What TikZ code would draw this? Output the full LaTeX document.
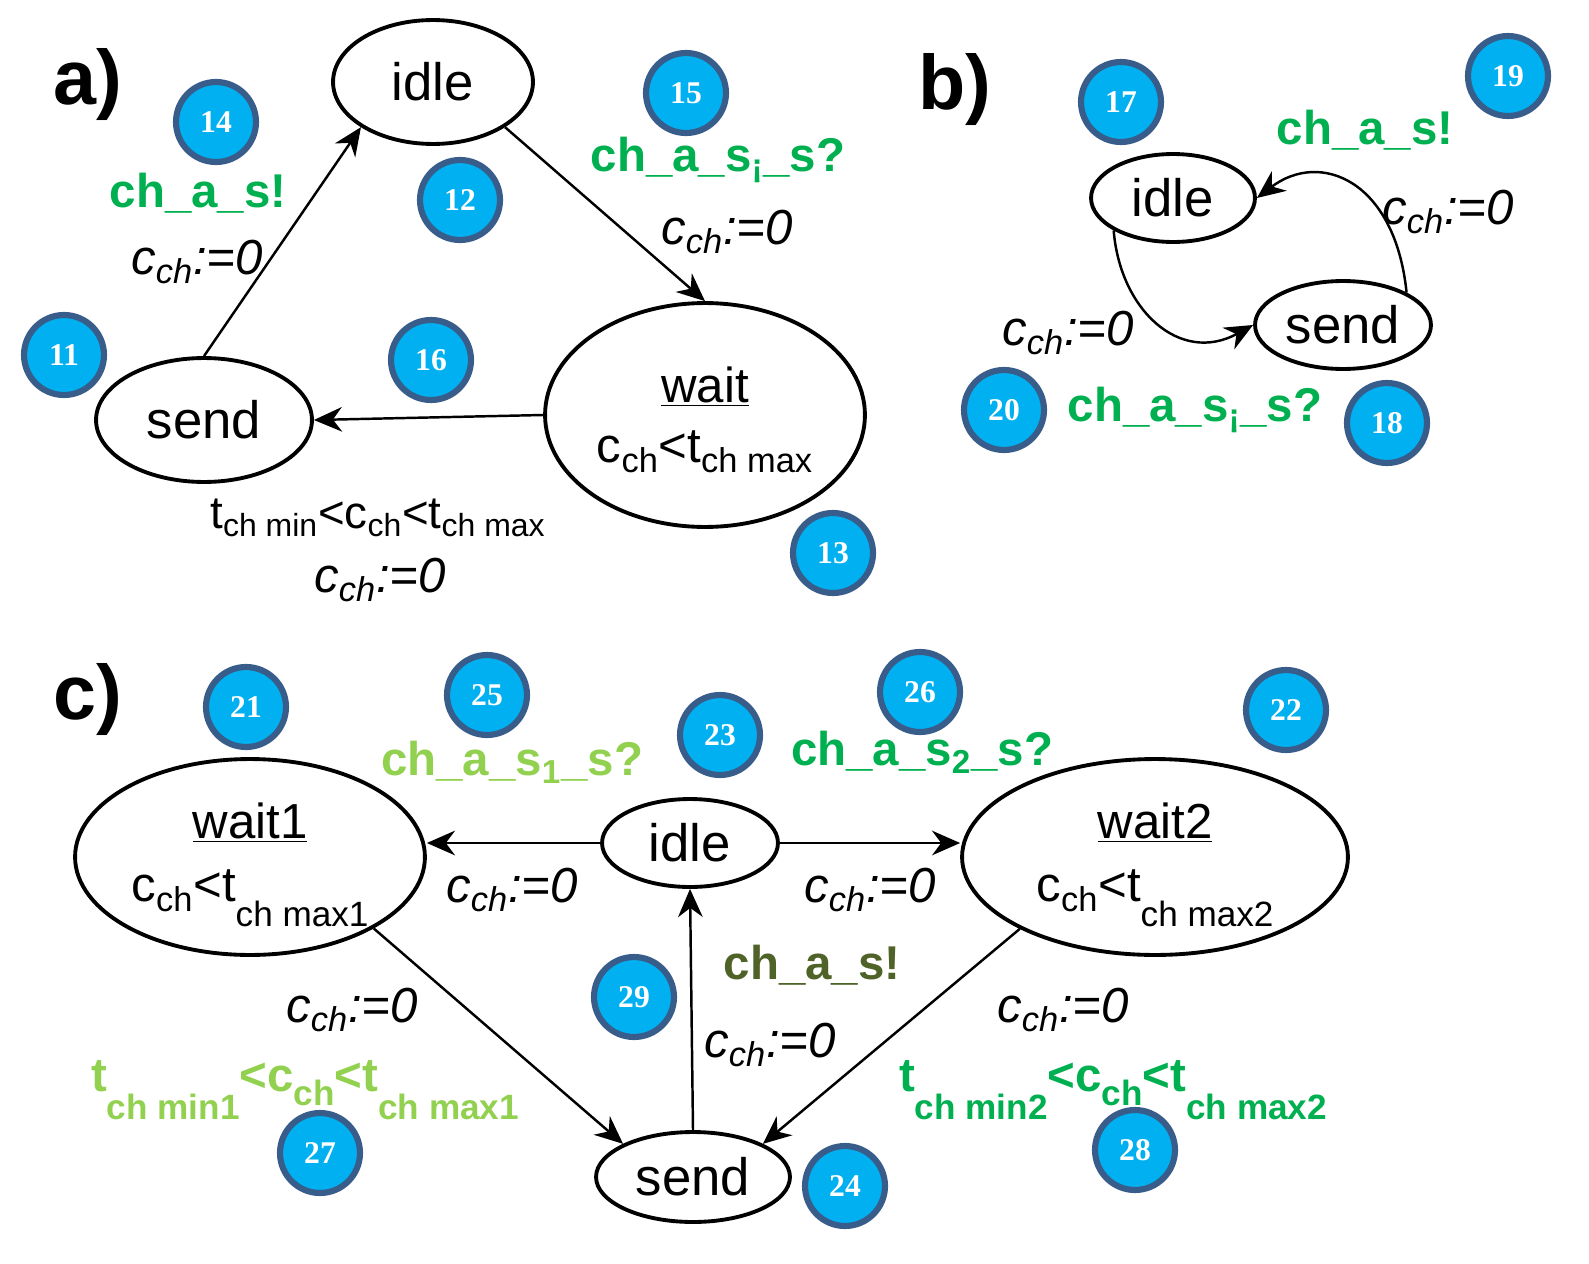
\documentclass[tikz,border=0pt]{standalone}
\usepackage{fontspec}
\setmainfont{Liberation Sans}
\newfontfamily\badgefont{Liberation Serif}
\usetikzlibrary{arrows.meta,shapes.geometric}
\definecolor{gA}{HTML}{00B050}
\definecolor{gL}{HTML}{92D050}
\definecolor{gD}{HTML}{4F6228}
\definecolor{bfill}{HTML}{00B0F0}
\definecolor{bedge}{HTML}{385D8A}
\newcommand{\cz}{{\itshape c\textsubscript{ch}:=0}}
\newcommand{\stnode}[5]{\node[st,minimum width=#4*0.04cm,minimum height=#5*0.04cm] (#1) at #2 {#3};}
\begin{document}
\begin{tikzpicture}[x=0.02cm,y=-0.02cm,
  st/.style={draw,line width=2.2pt,ellipse,inner sep=0pt},
  ed/.style={line width=1.4pt,-{Stealth[length=16pt,width=14pt]}},
  bd/.style={circle,fill=bfill,draw=bedge,line width=3.5pt,minimum size=1.6cm,inner sep=0pt,text=white,font=\fontsize{18}{18}\selectfont\bfseries\badgefont},
  lb/.style={font=\fontsize{28}{30}\selectfont},
  gl/.style={font=\fontsize{27}{30}\selectfont\bfseries},
  tt/.style={font=\fontsize{26}{28}\selectfont}]
\useasboundingbox (0,0) rectangle (1589,1264);
% a)
\node[font=\fontsize{44}{44}\selectfont\bfseries] (la) at (88,85) {a)};
\stnode{ai}{(433,82)}{\fontsize{30}{30}\selectfont idle}{100}{62}
\stnode{aw}{(705,415)}{}{160}{112}
\node[align=center,font=\fontsize{28}{32}\selectfont] (awt) at (705,420) {\underline{wait}\\[2pt] c\textsubscript{ch}<t\textsubscript{ch max}};
\stnode{as}{(204,420)}{\fontsize{30}{30}\selectfont send}{108}{62}
\draw[ed] (as.north) -- (ai.south west);
\draw[ed] (ai.south east) -- (aw.north);
\draw[ed] (aw.west) -- (as.east);
\node[gl,text=gA] (t14) at (198,193) {ch\_a\_s!};
\node[lb] (c14) at (197,262) {\cz};
\node[gl,text=gA] (t15) at (718,160) {ch\_a\_s\textsubscript{¡}\_s?};
\node[lb] (c15) at (727,232) {\cz};
\node[tt] (t16) at (378,518) {t\textsubscript{ch min}<c\textsubscript{ch}<t\textsubscript{ch max}};
\node[lb] (c16) at (380,580) {\cz};
% b)
\node[font=\fontsize{44}{44}\selectfont\bfseries] (lb2) at (955,90) {b)};
\stnode{bi}{(1173,198)}{\fontsize{30}{30}\selectfont idle}{82}{44}
\stnode{bs}{(1343,325)}{\fontsize{30}{30}\selectfont send}{88}{44}
\draw[ed] (bs.north east) .. controls (1395,180) and (1320,150) .. (bi.east);
\draw[ed] (bi.south west) .. controls (1120,310) and (1180,365) .. (bs.west);
\node[gl,text=gA] (t19) at (1365,130) {ch\_a\_s!};
\node[lb] (c19) at (1448,212) {\cz};
\node[lb] (c20) at (1068,333) {\cz};
\node[gl,text=gA] (t20) at (1195,410) {ch\_a\_s\textsubscript{¡}\_s?};
% c)
\node[font=\fontsize{44}{44}\selectfont\bfseries] (lc) at (88,700) {c)};
\stnode{cw1}{(250,857)}{}{175}{98}
\node[align=center,font=\fontsize{28}{32}\selectfont] (cw1t) at (250,865) {\underline{wait1}\\[4pt] c\textsubscript{ch}<t\raisebox{-14pt}{\fontsize{20}{20}\selectfont ch max1}};
\stnode{ci}{(690,843)}{\fontsize{30}{30}\selectfont idle}{88}{44}
\stnode{cw2}{(1155,857)}{}{193}{98}
\node[align=center,font=\fontsize{28}{32}\selectfont] (cw2t) at (1155,865) {\underline{wait2}\\[4pt] c\textsubscript{ch}<t\raisebox{-14pt}{\fontsize{20}{20}\selectfont ch max2}};
\stnode{cs}{(693,1177)}{\fontsize{30}{30}\selectfont send}{97}{45}
\draw[ed] (ci.west) -- (cw1.east |- ci.west);
\draw[ed] (ci.east) -- (cw2.west |- ci.east);
\draw[ed] (cw1.-30) -- (cs.north west);
\draw[ed] (cw2.208) -- (cs.north east);
\draw[ed] (cs.north) -- (ci.south);
\node[gl,text=gL] (t25) at (512,762) {ch\_a\_s\textsubscript{1}\_s?};
\node[gl,text=gA] (t26) at (922,752) {ch\_a\_s\textsubscript{2}\_s?};
\node[lb] (c1) at (512,890) {\cz};
\node[lb] (c2) at (870,890) {\cz};
\node[lb] (c3) at (352,1010) {\cz};
\node[lb] (c4) at (1063,1010) {\cz};
\node[lb] (c5) at (770,1045) {\cz};
\node[gl,text=gD] (t29) at (812,965) {ch\_a\_s!};
\node[gl,text=gL,align=left] (t27) at (305,1090) {t\raisebox{-16pt}{\fontsize{20}{20}\selectfont ch min1}<c\raisebox{-8pt}{\fontsize{20}{20}\selectfont ch}<t\raisebox{-16pt}{\fontsize{20}{20}\selectfont ch max1}};
\node[gl,text=gA,align=left] (t28) at (1113,1090) {t\raisebox{-16pt}{\fontsize{20}{20}\selectfont ch min2}<c\raisebox{-8pt}{\fontsize{20}{20}\selectfont ch}<t\raisebox{-16pt}{\fontsize{20}{20}\selectfont ch max2}};
% badges
\foreach \n/\x/\y in {14/216/122,12/460/200,15/686/93,11/64/355,16/431/360,13/833/553,17/1121/102,19/1508/76,20/1004/410,18/1387/423,21/246/707,25/487/695,23/720/735,26/920/692,22/1286/710,29/634/997,27/320/1153,24/845/1186,28/1135/1150}
  \node[bd] (b\n) at (\x,\y) {\n};
\end{tikzpicture}
\end{document}
